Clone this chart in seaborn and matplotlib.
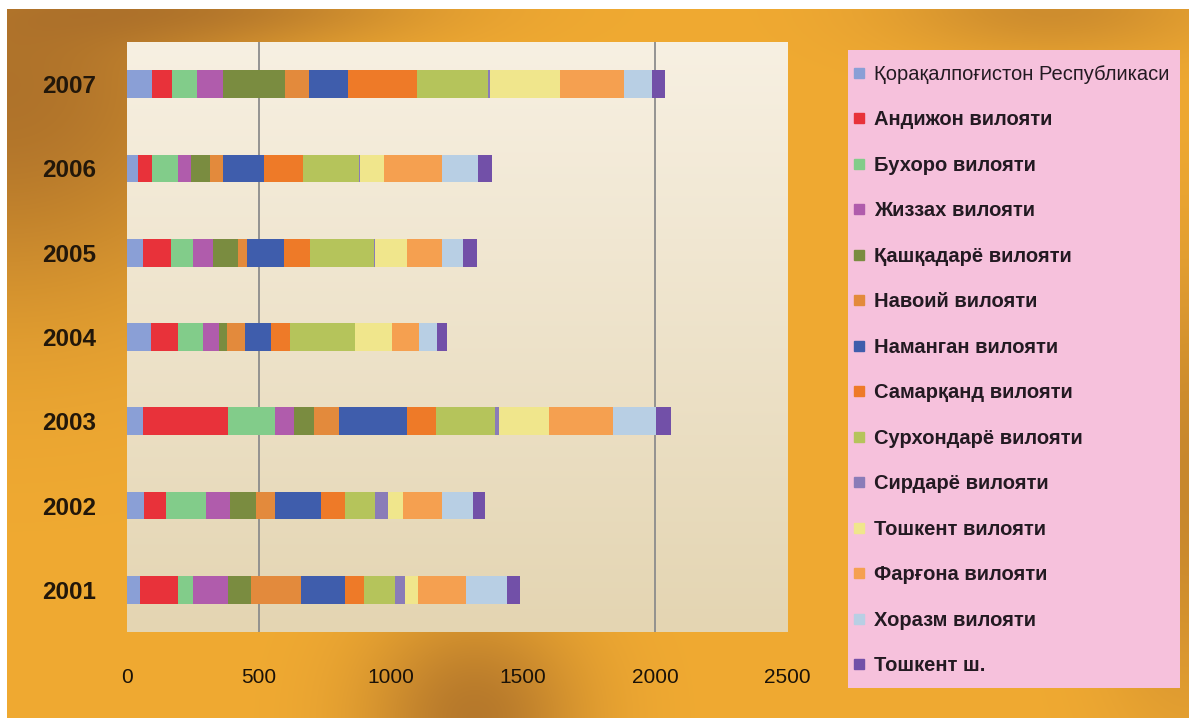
import numpy as np
import pandas as pd
import matplotlib.pyplot as plt
from matplotlib.patches import Rectangle
from matplotlib.lines import Line2D
import seaborn as sns

sns.set_style("white")
plt.rcParams['font.family'] = ['Liberation Sans', 'DejaVu Sans']

# --- data ---
years = ["2007", "2006", "2005", "2004", "2003", "2002", "2001"]
regions = [
    "Қорақалпоғистон Республикаси", "Андижон вилояти", "Бухоро вилояти",
    "Жиззах вилояти", "Қашқадарё вилояти", "Навоий вилояти",
    "Наманган вилояти", "Самарқанд вилояти", "Сурхондарё вилояти",
    "Сирдарё вилояти", "Тошкент вилояти", "Фарғона вилояти",
    "Хоразм вилояти", "Тошкент ш.",
]
# one list per year, values in the order of `regions`
v2007 = [94, 75, 97, 97, 237, 88, 150, 262, 268, 7, 264, 243, 106, 50]
v2006 = [43, 51, 98, 50, 71, 50, 156, 148, 211, 4, 91, 221, 137, 51]
v2005 = [60, 107, 83, 76, 94, 33, 142, 98, 241, 4, 124, 132, 80, 51]
v2004 = [91, 101, 96, 60, 32, 67, 100, 71, 244, 3, 139, 101, 68, 38]
v2003 = [59, 322, 179, 74, 76, 93, 257, 112, 223, 14, 189, 244, 162, 58]
v2002 = [66, 82, 151, 93, 98, 70, 175, 89, 116, 49, 57, 148, 116, 47]
v2001 = [49, 143, 58, 132, 88, 189, 165, 72, 118, 40, 49, 180, 156, 51]
x_ticks = [0, 500, 1000, 1500, 2000, 2500]
grid_values = [500, 2000]

colors = ["#8a9fd6", "#e8323a", "#82cc8a", "#b05cac", "#7a8c40", "#e38a3c",
          "#3f5dac", "#ee7a28", "#b5c45b", "#8a7cb8", "#f0e68c", "#f5a050",
          "#b8cfe4", "#7250a8"]

df = pd.DataFrame([v2007, v2006, v2005, v2004, v2003, v2002, v2001],
                  index=years, columns=regions)
cum = df.cumsum(axis=1)

fig = plt.figure(figsize=(11.89, 7.18), dpi=100)
fig.patch.set_facecolor("white")

# golden backdrop
H, W = 718, 1189
yy, xx = np.mgrid[0:H, 0:W]
d = (0.95 * np.exp(-(xx / 260.0) ** 2 - ((yy - 80) / 220.0) ** 2)
     + 0.85 * np.exp(-((xx - 470) / 110.0) ** 2 - ((yy - 718) / 110.0) ** 2)
     + 0.6 * np.exp(-((xx - 1189) / 90.0) ** 2 - ((yy - 480) / 220.0) ** 2)
     + 0.5 * np.exp(-((xx - 1050) / 160.0) ** 2 - (yy / 50.0) ** 2)
     + 0.45 * np.exp(-((xx - 250) / 200.0) ** 2 - (yy / 35.0) ** 2))
d = np.clip(d, 0, 1)[..., None]
light = np.array([240, 170, 50]) / 255.0
dark = np.array([172, 112, 42]) / 255.0
bg_img = light * (1 - d) + dark * d
bg = fig.add_axes([0.006, 0, 0.994, 0.988])
bg.imshow(bg_img, aspect="auto")
bg.axis("off")
bg.set_zorder(-10)

pos = [127 / 1189, 1 - 632 / 718, (787 - 127) / 1189, (632 - 42) / 718]
# cream plot area
pa = fig.add_axes(pos)
grad = np.linspace(0, 1, 256)[:, None, None]
top = np.array([247, 240, 226]) / 255.0
bot = np.array([228, 213, 178]) / 255.0
pa.imshow(top * (1 - grad) + bot * grad, aspect="auto")
pa.axis("off")
pa.set_zorder(-5)

ax = fig.add_axes(pos)
ax.patch.set_alpha(0)

for v in grid_values:
    ax.axvline(v, color="#8c8c8c", lw=1.3, zorder=0.5)

# stacked bars: draw the longest cumulative first so the earlier parts sit on top
for i in range(len(regions) - 1, -1, -1):
    sns.barplot(x=cum[regions[i]].values, y=years, order=years, orient="h",
                color=colors[i], saturation=1, width=0.33, linewidth=0,
                ax=ax, zorder=2)

ax.set_xlim(0, 2500)
ax.set_ylim(6.5, -0.5)
ax.set_xticks(x_ticks)
ax.set_xticklabels([str(t) for t in x_ticks])
ax.set_xlabel("")
ax.set_ylabel("")
sns.despine(ax=ax, left=True, bottom=True)
ax.tick_params(axis="both", length=0)
ax.tick_params(axis="y", pad=22, labelsize=17.5, labelcolor="#22170a")
ax.tick_params(axis="x", pad=26, labelsize=15, labelcolor="#1a1208")
for t in ax.get_yticklabels():
    t.set_fontweight("bold")

# pink legend panel
fig.patches.append(Rectangle((848 / 1189, 1 - 688 / 718), (1180 - 848) / 1189,
                             (688 - 50) / 718, transform=fig.transFigure,
                             facecolor="#f6c1dc", edgecolor="none", zorder=0))

handles = [Line2D([], [], marker="s", linestyle="", color=c, markersize=7.5)
           for c in colors]
leg = fig.legend(handles, regions, loc="upper left",
                 bbox_to_anchor=(851 / 1189, 1 - 65 / 718),
                 frameon=False, labelspacing=1.315, handletextpad=0.35,
                 handlelength=0.8, borderaxespad=0, borderpad=0,
                 prop={"size": 14.5, "weight": "bold"})
for t in leg.get_texts():
    t.set_color("#231a22")
leg.get_texts()[0].set_fontweight("normal")
leg.set_zorder(10)

fig.savefig("out.png", dpi=100)
